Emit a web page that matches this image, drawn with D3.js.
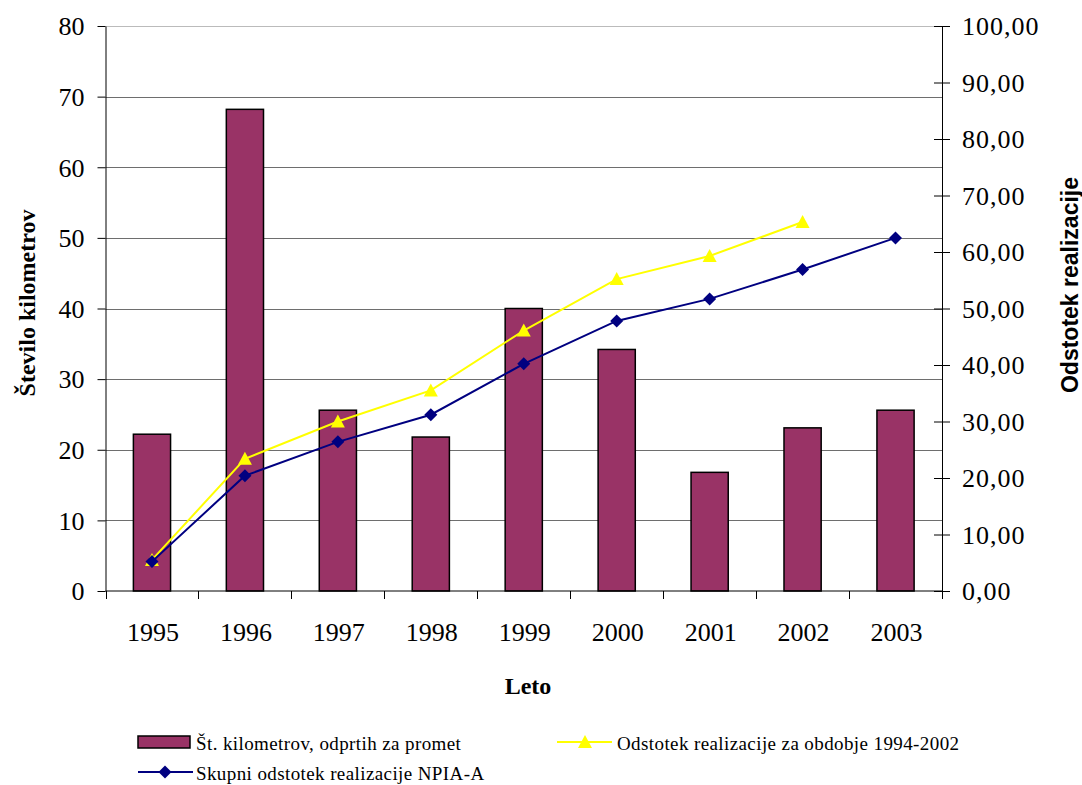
<!DOCTYPE html>
<html>
<head>
<meta charset="utf-8">
<script src="https://cdn.jsdelivr.net/npm/d3@7"></script>
<style>
  html, body { margin: 0; padding: 0; background: #fff; }
  svg { display: block; }
</style>
</head>
<body>
<svg id="chart" width="1082" height="785"></svg>
<script>
// Years on the category axis
const years = ["1995", "1996", "1997", "1998", "1999", "2000", "2001", "2002", "2003"];
// Kilometres opened for traffic per year (left axis)
const kmOpened = [22.2, 68.2, 25.6, 21.8, 40.0, 34.2, 16.8, 23.1, 25.6];
// Realisation percentage for the period 1994-2002 (right axis)
const pctPeriod = [5.5, 23.4, 30.0, 35.5, 46.1, 55.2, 59.3, 65.3, null];
// Overall NPIA-A realisation percentage (right axis)
const pctTotal = [5.2, 20.4, 26.4, 31.2, 40.2, 47.8, 51.7, 56.9, 62.5];
// Tick values
const leftTicks = [0, 10, 20, 30, 40, 50, 60, 70, 80];
const rightTicks = [0, 10, 20, 30, 40, 50, 60, 70, 80, 90, 100];

const SERIF = "'Liberation Serif', 'Times New Roman', serif";
const SANS = "'Liberation Sans', Arial, sans-serif";

const svg = d3.select("#chart");
const plot = { left: 105.5, right: 942, top: 26, bottom: 591 };

const x = d3.scaleBand().domain(years).range([plot.left, plot.right]).padding(0);
const yL = d3.scaleLinear().domain([0, 80]).range([plot.bottom, plot.top]);
const yR = d3.scaleLinear().domain([0, 100]).range([plot.bottom, plot.top]);
const fmtR = v => d3.format(".2f")(v).replace(".", ",");

// Horizontal gridlines
svg.append("g")
  .selectAll("line")
  .data(leftTicks.filter(d => d > 0))
  .join("line")
  .attr("x1", plot.left).attr("x2", plot.right)
  .attr("y1", d => Math.round(yL(d)) + 0.5).attr("y2", d => Math.round(yL(d)) + 0.5)
  .attr("stroke", d => d === 80 ? "#bbb" : "#6e6e6e")
  .attr("stroke-width", 1);

// Bars
const barW = x.bandwidth() * 0.4;
svg.append("g")
  .selectAll("rect")
  .data(years.map((y, i) => ({ year: y, v: kmOpened[i] })))
  .join("rect")
  .attr("x", d => x(d.year) + (x.bandwidth() - barW) / 2)
  .attr("y", d => yL(d.v))
  .attr("width", barW)
  .attr("height", d => yL(0) - yL(d.v))
  .attr("fill", "#993366")
  .attr("stroke", "#000")
  .attr("stroke-width", 1.5);

// Left axis
const axL = svg.append("g")
  .attr("transform", `translate(${plot.left},0)`)
  .call(d3.axisLeft(yL).tickValues(leftTicks).tickSize(8).tickSizeOuter(0).tickPadding(13).tickFormat(d3.format("d")));
axL.select(".domain").attr("stroke", "#000");
axL.selectAll(".tick line").attr("stroke", "#000");
axL.selectAll("text").attr("font-size", 26).attr("fill", "#000")
  .attr("font-family", SERIF).attr("dy", "0.34em");

// Right axis with crossing tick marks
const axR = svg.append("g")
  .attr("transform", `translate(${plot.right},0)`)
  .call(d3.axisRight(yR).tickValues(rightTicks).tickSize(8).tickSizeOuter(0).tickPadding(12).tickFormat(fmtR));
axR.select(".domain").attr("stroke", "#000");
axR.selectAll(".tick line").attr("x1", -8).attr("stroke", "#000");
axR.selectAll("text").attr("font-size", 26).attr("fill", "#000")
  .attr("letter-spacing", 1).attr("font-family", SERIF).attr("dy", "0.34em");

// Category axis
const axB = svg.append("g")
  .attr("transform", `translate(0,${plot.bottom})`);
axB.append("line").attr("x1", plot.left).attr("x2", plot.right).attr("stroke", "#000");
const bounds = years.map(y => x(y)).concat([plot.right]);
axB.selectAll("line.tk").data(bounds).join("line").attr("class", "tk")
  .attr("x1", d => Math.round(d) + 0.5).attr("x2", d => Math.round(d) + 0.5)
  .attr("y1", 0).attr("y2", 8).attr("stroke", "#000");
axB.selectAll("text").data(years).join("text")
  .attr("x", d => x(d) + x.bandwidth() / 2 + 1)
  .attr("y", 50)
  .attr("text-anchor", "middle")
  .attr("font-family", SERIF)
  .attr("font-size", 26)
  .text(d => d);

// Lines
const lineGen = scale => d3.line()
  .defined(d => d.v != null)
  .x(d => x(d.year) + x.bandwidth() / 2)
  .y(d => scale(d.v));

const periodData = years.map((y, i) => ({ year: y, v: pctPeriod[i] }));
const totalData = years.map((y, i) => ({ year: y, v: pctTotal[i] }));

svg.append("path").datum(periodData)
  .attr("d", lineGen(yR)).attr("fill", "none").attr("stroke", "#FFFF00").attr("stroke-width", 2);
svg.append("g").selectAll("path").data(periodData.filter(d => d.v != null)).join("path")
  .attr("transform", d => `translate(${x(d.year) + x.bandwidth() / 2},${yR(d.v)})`)
  .attr("d", "M0,-7L7,6L-7,6Z")
  .attr("fill", "#FFFF00");

svg.append("path").datum(totalData)
  .attr("d", lineGen(yR)).attr("fill", "none").attr("stroke", "#000080").attr("stroke-width", 2);
svg.append("g").selectAll("path").data(totalData).join("path")
  .attr("transform", d => `translate(${x(d.year) + x.bandwidth() / 2},${yR(d.v)})`)
  .attr("d", "M0,-6.5L6.5,0L0,6.5L-6.5,0Z")
  .attr("fill", "#000080");

// Axis titles
svg.append("text")
  .attr("transform", `translate(35,303) rotate(-90)`)
  .attr("text-anchor", "middle")
  .attr("font-family", SERIF)
  .attr("font-weight", "bold").attr("font-size", 24)
  .text("Število kilometrov");

svg.append("text")
  .attr("transform", `translate(1078,285) rotate(-90)`)
  .attr("text-anchor", "middle")
  .attr("font-family", SANS)
  .attr("font-weight", "bold").attr("font-size", 23)
  .text("Odstotek realizacije");

svg.append("text")
  .attr("x", 528).attr("y", 694)
  .attr("text-anchor", "middle")
  .attr("font-family", SERIF)
  .attr("font-weight", "bold").attr("font-size", 24)
  .text("Leto");

// Legend
const leg = svg.append("g").attr("font-family", SERIF).attr("font-size", 19).attr("letter-spacing", 0.4);
leg.append("rect").attr("x", 138).attr("y", 736).attr("width", 52).attr("height", 12)
  .attr("fill", "#993366").attr("stroke", "#000").attr("stroke-width", 1.5);
leg.append("text").attr("x", 196).attr("y", 750).text("Št. kilometrov, odprtih za promet");

leg.append("line").attr("x1", 557).attr("x2", 612).attr("y1", 742).attr("y2", 742)
  .attr("stroke", "#FFFF00").attr("stroke-width", 2);
leg.append("path").attr("transform", "translate(585,742)").attr("d", "M0,-7L7,6L-7,6Z").attr("fill", "#FFFF00");
leg.append("text").attr("x", 617).attr("y", 750).text("Odstotek realizacije za obdobje 1994-2002");

leg.append("line").attr("x1", 138).attr("x2", 193).attr("y1", 772).attr("y2", 772)
  .attr("stroke", "#000080").attr("stroke-width", 2);
leg.append("path").attr("transform", "translate(165,772)").attr("d", "M0,-6.5L6.5,0L0,6.5L-6.5,0Z").attr("fill", "#000080");
leg.append("text").attr("x", 196).attr("y", 780).text("Skupni odstotek realizacije NPIA-A");
</script>
</body>
</html>
